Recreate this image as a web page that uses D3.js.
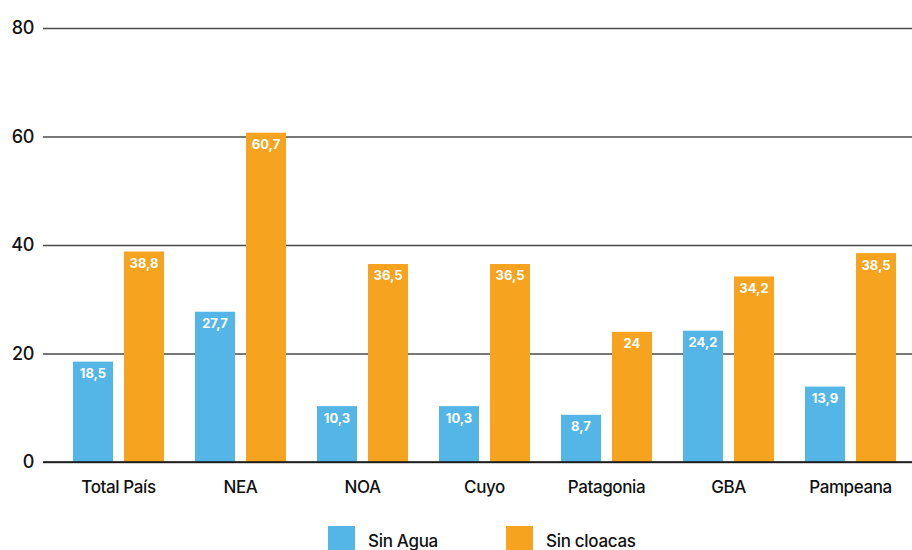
<!DOCTYPE html>
<html>
<head>
<meta charset="utf-8">
<script src="https://cdn.jsdelivr.net/npm/d3@7"></script>
<style>
  html, body { margin: 0; padding: 0; background: #fff; }
  svg { display: block; font-family: Inter, "Liberation Sans", Arial, sans-serif; }
</style>
</head>
<body>
<svg id="chart" width="912" height="550"></svg>
<script>
// Regions and percentage of households without each service
const categories = ["Total País", "NEA", "NOA", "Cuyo", "Patagonia", "GBA", "Pampeana"];
const sinAgua = [18.5, 27.7, 10.3, 10.3, 8.7, 24.2, 13.9];
const sinCloacas = [38.8, 60.7, 36.5, 36.5, 24, 34.2, 38.5];
const seriesNames = ["Sin Agua", "Sin cloacas"];
const seriesColors = ["#53b6e7", "#f6a31f"];
const yTicks = [0, 20, 40, 60, 80];

const svg = d3.select("#chart");
const fmt = v => String(v).replace(".", ",");
const fontStack = "Inter, 'Liberation Sans', Arial, sans-serif";

const y = d3.scaleLinear().domain([0, 80]).range([462, 28]);
const x = d3.scaleBand().domain(categories).range([57.5, 911.5]);
const xs = d3.scaleBand().domain(seriesNames).range([15.5, 106.5]).paddingInner(11 / 51).paddingOuter(0);

// gridlines and y tick labels
const yAxis = d3.axisLeft(y).tickValues(yTicks).tickSize(-869).tickPadding(9).tickFormat(d => d);
const gy = svg.append("g").attr("transform", "translate(43,0)").call(yAxis)
  .attr("font-family", fontStack);
gy.select(".domain").remove();
gy.selectAll(".tick line").attr("stroke", "#4a4a4a").attr("stroke-width", 1.3);
gy.selectAll(".tick text").attr("fill", "#111").attr("font-size", 18).attr("font-weight", 500)
  .attr("letter-spacing", -0.3).attr("x", -9).attr("text-anchor", "end");

const data = categories.map((c, i) => ({ cat: c, vals: [sinAgua[i], sinCloacas[i]] }));

const groups = svg.append("g").selectAll("g").data(data).join("g")
  .attr("transform", d => `translate(${x(d.cat)},0)`);

groups.selectAll("rect").data(d => d.vals.map((v, j) => ({ v, s: seriesNames[j], j })))
  .join("rect")
  .attr("x", d => xs(d.s))
  .attr("width", xs.bandwidth())
  .attr("y", d => y(d.v))
  .attr("height", d => y(0) - y(d.v))
  .attr("fill", d => seriesColors[d.j]);

groups.selectAll("text.val").data(d => d.vals.map((v, j) => ({ v, s: seriesNames[j], j })))
  .join("text")
  .attr("class", "val")
  .attr("x", d => xs(d.s) + xs.bandwidth() / 2)
  .attr("y", d => y(d.v) + 16.5)
  .attr("text-anchor", "middle")
  .attr("fill", "#fff")
  .attr("font-weight", "bold")
  .attr("font-size", 13)
  .text(d => fmt(d.v));

// baseline
svg.append("line").attr("x1", 43).attr("x2", 912).attr("y1", y(0)).attr("y2", y(0))
  .attr("stroke", "#111").attr("stroke-width", 1.6);

// category labels
const xAxis = d3.axisBottom(x).tickSize(0).tickPadding(0);
const gx = svg.append("g").attr("transform", `translate(0,${y(0)})`).call(xAxis)
  .attr("font-family", fontStack);
gx.select(".domain").remove();
gx.selectAll(".tick text").attr("fill", "#111").attr("font-size", 17).attr("font-weight", 500)
  .attr("letter-spacing", -0.4).attr("dy", null).attr("y", 30.5);

// legend
const legendX = [328, 506];
const leg = svg.append("g").selectAll("g").data(seriesNames).join("g")
  .attr("transform", (d, i) => `translate(${legendX[i]},526)`);
leg.append("rect").attr("width", 27).attr("height", 26).attr("fill", (d, i) => seriesColors[i]);
leg.append("text").attr("x", 40).attr("y", 20.5).attr("font-size", 17).attr("font-weight", 500)
  .attr("letter-spacing", -0.3).attr("fill", "#111").text(d => d);
</script>
</body>
</html>
